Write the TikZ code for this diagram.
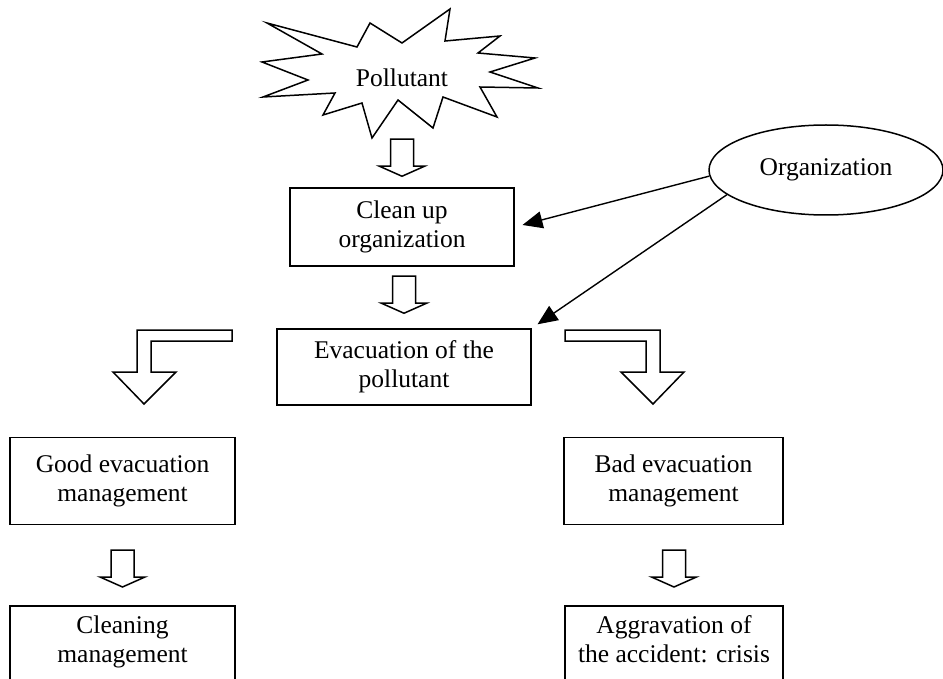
\documentclass[tikz,border=0pt]{standalone}
\usepackage{fontspec}
\setmainfont{Liberation Serif}
\usetikzlibrary{shapes.geometric,arrows.meta}
\def\txt{\fontsize{25.5}{29}\selectfont}
\tikzset{
  box/.style={draw, line width=1.5pt, align=center, font=\txt, inner sep=0pt},
  hollow/.style={draw, line width=1.5pt, fill=white, line join=miter},
  conn/.style={line width=1.4pt, -{Triangle[length=20pt,width=17pt]}},
  blockdown/.pic={\draw[hollow] (-11.5,-37) -- (11.5,-37) -- (11.5,-10) -- (22.5,-10)
      -- (0,0) -- (-22.5,-10) -- (-11.5,-10) -- cycle;},
  bentdown/.pic={\draw[hollow] (-7,-74) -- (88,-74) -- (88,-63) -- (7,-63) -- (7,-32)
      -- (32,-32) -- (0,0) -- (-31,-32) -- (-7,-32) -- cycle;}
}
\begin{document}
\begin{tikzpicture}[x=1pt,y=-1pt]
  \useasboundingbox (0,0) rectangle (943,679);
  \clip (0,0) rectangle (943,679);
          % pollutant star
          \draw[hollow] (267,23) -- (357,47) -- (370,23) -- (402,43) -- (450,9) -- (445,41)
              -- (500,36) -- (478,53) -- (535,58) -- (490,72) -- (538,88) -- (480,87)
              -- (497,117) -- (443,97) -- (433,128) -- (398,100) -- (372,138) -- (362,103)
              -- (323,115) -- (335,93) -- (263,97) -- (308,80) -- (262,62) -- (322,54) -- cycle;
          \node[font=\txt] (pollutant) at (402,78) {Pollutant};
          \node[box, minimum width=224pt, minimum height=78pt] (clean) at (402,227) {Clean up\\organization};
          \node[box, minimum width=254pt, minimum height=76pt] (evac) at (404,367) {Evacuation of the\\pollutant};
          \node[draw, ellipse, line width=1.5pt, font=\txt, minimum width=234pt, minimum height=90pt] (org) at (826,170) {Organization};
          \node[box, minimum width=225pt, minimum height=87pt] (good) at (122.5,481) {Good evacuation\\management};
          \node[box, minimum width=219pt, minimum height=87pt] (bad) at (673.5,481) {Bad evacuation\\management};
          \node[box, minimum width=225pt, anchor=north, inner ysep=10pt, text depth=70pt] (cleaning) at (122.5,605) {Cleaning\\management};
          \node[box, minimum width=218pt, anchor=north, inner ysep=10pt, text depth=70pt] (aggr) at (674,605) {Aggravation of\\the accident: crisis};
          % block arrows
          \pic at ([yshift=11pt]clean.north) {blockdown};
          \pic at ([yshift=15pt]evac.north) {blockdown};
          \pic at ([yshift=18pt]cleaning.north) {blockdown};
          \pic at ([yshift=18pt]aggr.north) {blockdown};
          \pic at (144,404) {bentdown};
          \pic[xscale=-1] at (653,404) {bentdown};
          % organization links
          \draw[conn, shorten >=8pt] (org.183) -- (clean.east);
          \draw[conn, shorten >=7pt] (org.194) -- (evac.north east);
\end{tikzpicture}
\end{document}
